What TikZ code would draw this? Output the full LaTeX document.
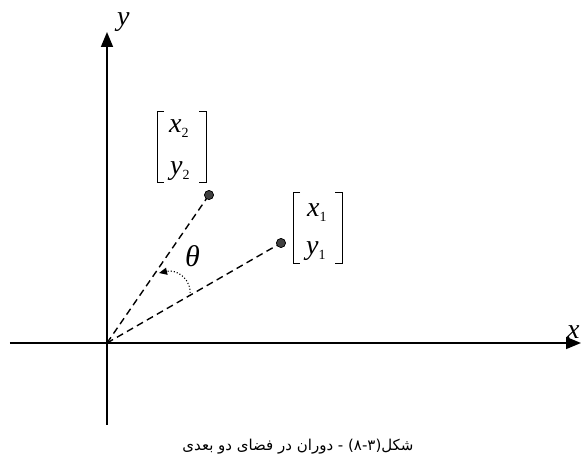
\documentclass[tikz,border=0pt]{standalone}
\usepackage{fontspec}
\setmainfont{Liberation Serif}
\newfontfamily\persianfont[Script=Arabic]{DejaVu Sans}
\TeXXeTstate=1
\usetikzlibrary{arrows.meta}

\newcommand{\vecsym}[2]{\textit{#1}\raisebox{-5pt}{\fontsize{14}{14}\selectfont #2}}

\tikzset{
  axis/.style={line width=1.6pt, -{Triangle[width=12pt,length=15pt]}},
  ray/.style={line width=1.4pt, dash pattern=on 7pt off 4.5pt},
  dot/.style={circle, draw=black, fill=black!75, line width=0.6pt, minimum size=9pt, inner sep=0pt},
  lbl/.style={inner sep=0pt, anchor=base west, font=\fontsize{28}{30}\selectfont},
  brack/.style={line width=0.8pt}
}

\begin{document}
\begin{tikzpicture}[x=1pt, y=1pt]
		\useasboundingbox (-107,-127) rectangle (474,343);

		\coordinate (O) at (0,0);
		\coordinate (xstart) at (-97,0);
		\coordinate (xend) at (474,0);
		\coordinate (ystart) at (0,-82);
		\coordinate (yend) at (0,311);

		\node[lbl] (xlab) at (460,4) {\textit{x}};
		\node[lbl] (ylab) at (10,317) {\textit{y}};

		\draw[axis] (xstart) -- (xend);
		\draw[axis] (ystart) -- (yend);

		\node[dot] (p1) at (174,100) {};
		\node[dot] (p2) at (102,148) {};
		\draw[ray] (O) -- (p1.center);
		\draw[ray] (O) -- (p2.center);
		\node[dot] at (p1) {};
		\node[dot] at (p2) {};

		\coordinate (arcA) at (83,47);
		\coordinate (arcB) at (52,70);
		\draw[dotted, line width=1.1pt, -{Triangle[width=7pt,length=8pt]}]
			(arcA) .. controls (85,64) and (70,74) .. (arcB);
		\node[lbl, font=\fontsize{30}{32}\selectfont] (theta) at (78,76) {\textit{θ}};

		\node[lbl] (x1) at (200,126) {\vecsym{x}{1}};
		\node[lbl] (y1) at (199,88) {\vecsym{y}{1}};
		\draw[brack] (193,151) -- (186,151) -- (186,80) -- (193,80);
		\draw[brack] (228,151) -- (235,151) -- (235,80) -- (228,80);

		\node[lbl] (x2) at (62,210) {\vecsym{x}{2}};
		\node[lbl] (y2) at (63,168) {\vecsym{y}{2}};
		\draw[brack] (57,232) -- (50,232) -- (50,161) -- (57,161);
		\draw[brack] (92,232) -- (99,232) -- (99,161) -- (92,161);

		\node[font=\fontsize{15}{17}\selectfont] (caption) at (191,-104)
			{\persianfont\beginR شکل(۳-۸) - دوران در فضای دو بعدی\endR};
	\end{tikzpicture}
\end{document}
